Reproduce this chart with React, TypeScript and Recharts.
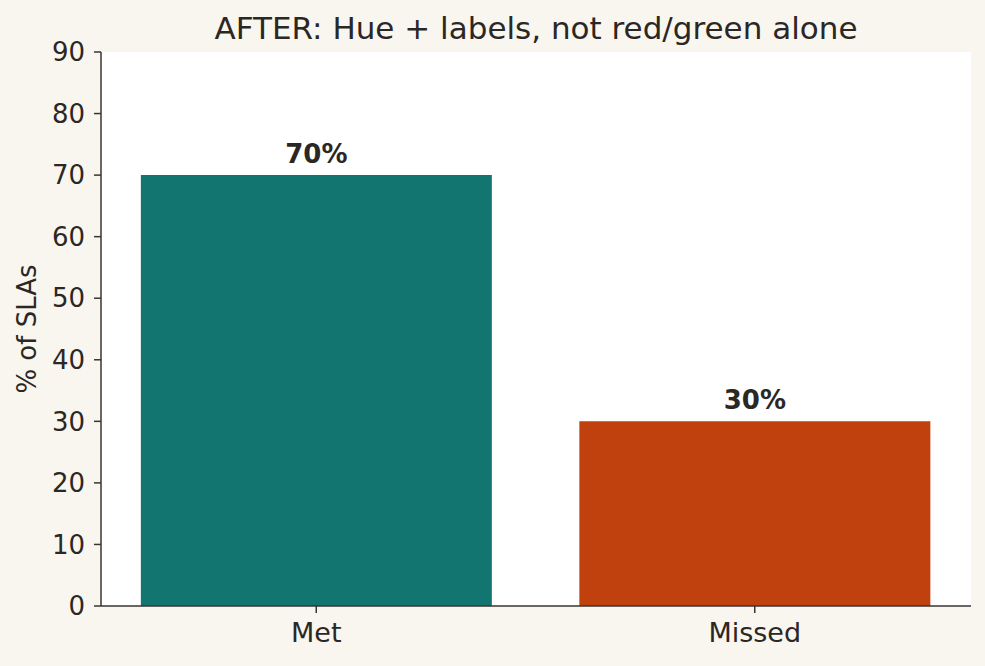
import { Bar, BarChart, CartesianGrid, Cell, LabelList, XAxis, YAxis } from "recharts";

const categories = ["Met", "Missed"];
const shares = [70, 30];
const barColors = ["#137570", "#c1410e"];
const yTicks = [0, 10, 20, 30, 40, 50, 60, 70, 80, 90];

const data = categories.map((name, i) => ({ name, value: shares[i] }));

const FONT = "'DejaVu Sans', sans-serif";
const INK = "#2b2724";
const SPINE = "#3a3431";

export default function App() {
  return (
    <div
      style={{
        position: "absolute",
        left: 0,
        top: 0,
        width: 985,
        height: 666,
        background: "#f9f6f0",
        fontFamily: FONT,
      }}
    >
      <div
        style={{
          position: "absolute",
          left: 101,
          width: 870,
          top: 9,
          textAlign: "center",
          fontSize: 31,
          lineHeight: "38px",
          color: INK,
        }}
      >
        AFTER: Hue + labels, not red/green alone
      </div>
      <BarChart
        width={985}
        height={666}
        data={data}
        margin={{ top: 52, right: 14, bottom: 30, left: 0 }}
        barCategoryGap="10%"
        style={{ position: "absolute", left: 0, top: 0 }}
      >
        <CartesianGrid horizontal={false} vertical={false} fill="#ffffff" stroke="none" />
        <XAxis
          dataKey="name"
          height={30}
          padding={{ left: -4, right: -3 }}
          tickSize={7}
          tickMargin={10}
          axisLine={{ stroke: SPINE, strokeWidth: 1.5 }}
          tickLine={{ stroke: SPINE, strokeWidth: 1.5 }}
          tick={{ fill: INK, fontSize: 27, fontFamily: FONT }}
        />
        <YAxis
          domain={[0, 90]}
          ticks={yTicks}
          width={101}
          tickSize={7}
          tickMargin={9}
          axisLine={{ stroke: SPINE, strokeWidth: 1.5 }}
          tickLine={{ stroke: SPINE, strokeWidth: 1.5 }}
          tick={{ fill: INK, fontSize: 26, fontFamily: FONT }}
          label={{
            value: "% of SLAs",
            angle: -90,
            position: "insideLeft",
            offset: 27,
            style: { textAnchor: "middle", fill: INK, fontSize: 26, fontFamily: FONT },
          }}
        />
        <Bar dataKey="value" isAnimationActive={false}>
          {data.map((d, i) => (
            <Cell key={d.name} fill={barColors[i]} />
          ))}
          <LabelList
            dataKey="value"
            position="top"
            offset={12}
            formatter={(v: number) => `${v}%`}
            style={{ fill: INK, fontSize: 26, fontWeight: 700, fontFamily: FONT }}
          />
        </Bar>
      </BarChart>
    </div>
  );
}
